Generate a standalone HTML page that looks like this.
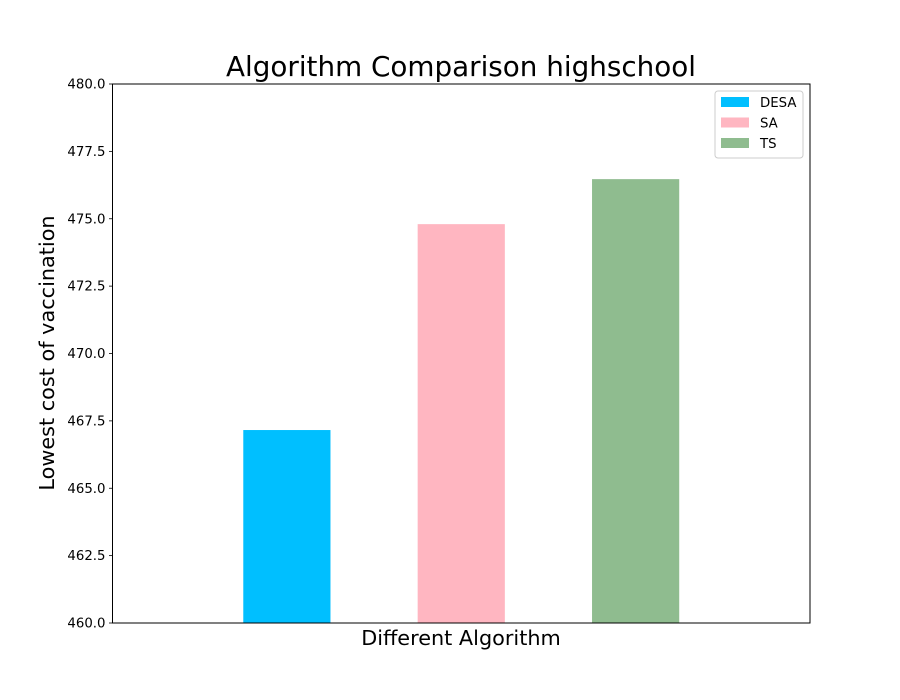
<!DOCTYPE html>
<html><head><meta charset="utf-8"><style>
body{margin:0;background:#fff;}
svg{display:block;font-family:"DejaVu Sans","Liberation Sans",sans-serif;}
</style></head><body>
<svg id="chart" width="900" height="700"></svg>
<script>
const categories = ["DESA","SA","TS"];
const values = [467.16, 474.8, 476.47];
const colors = ["#00bfff","#ffb6c1","#8fbc8f"];
const yTicks = [460.0,462.5,465.0,467.5,470.0,472.5,475.0,477.5,480.0];
const L=112.5,R=810,T=84,B=623;
const yMin=460,yMax=480,xMin=0,xMax=4;
const ys=v=>B-(v-yMin)/(yMax-yMin)*(B-T);
const xs=v=>L+(v-xMin)/(xMax-xMin)*(R-L);
const svg=document.getElementById('chart');
const NS='http://www.w3.org/2000/svg';
function mk(tag,attrs,text){const e=document.createElementNS(NS,tag);for(const k in attrs)e.setAttribute(k,attrs[k]);if(text!==undefined)e.textContent=text;svg.appendChild(e);return e;}
categories.forEach((c,i)=>{
  const x0=xs(i+1-0.25),x1=xs(i+1+0.25);
  const r=mk('rect',{x:x0,y:ys(values[i]),width:x1-x0,height:B-ys(values[i]),fill:colors[i]});
  
  
});
const frame=mk('rect',{x:L,y:T,width:R-L,height:B-T,fill:'none',stroke:'#000','stroke-width':1});


yTicks.forEach(t=>{
  const y=ys(t);
  const l=mk('line',{x1:L-3.5,x2:L,y1:y,y2:y,stroke:'#000','stroke-width':0.8});
  
  
  const tx=mk('text',{x:L-7,y:y+4.5,'text-anchor':'end','font-size':13.3},t.toFixed(1));
  
  
});
const title=mk('text',{x:461,y:76,'text-anchor':'middle','font-size':27.8},'Algorithm Comparison highschool');


const xl=mk('text',{x:461,y:645,'text-anchor':'middle','font-size':20.8},'Different Algorithm');


const yl=mk('text',{x:0,y:0,'text-anchor':'middle','font-size':20.8,transform:'translate(54,353) rotate(-90)'},'Lowest cost of vaccination');


const lg=mk('rect',{x:715,y:91,width:88,height:67,fill:'#fff',stroke:'#ccc',rx:3});


categories.forEach((c,i)=>{
  const y=97+i*20.5;
  const s=mk('rect',{x:721,y:y,width:28,height:10,fill:colors[i]});
  
  
  const t=mk('text',{x:760,y:y+10,'font-size':13.3},c);
  
  
});
</script>
</body></html>
